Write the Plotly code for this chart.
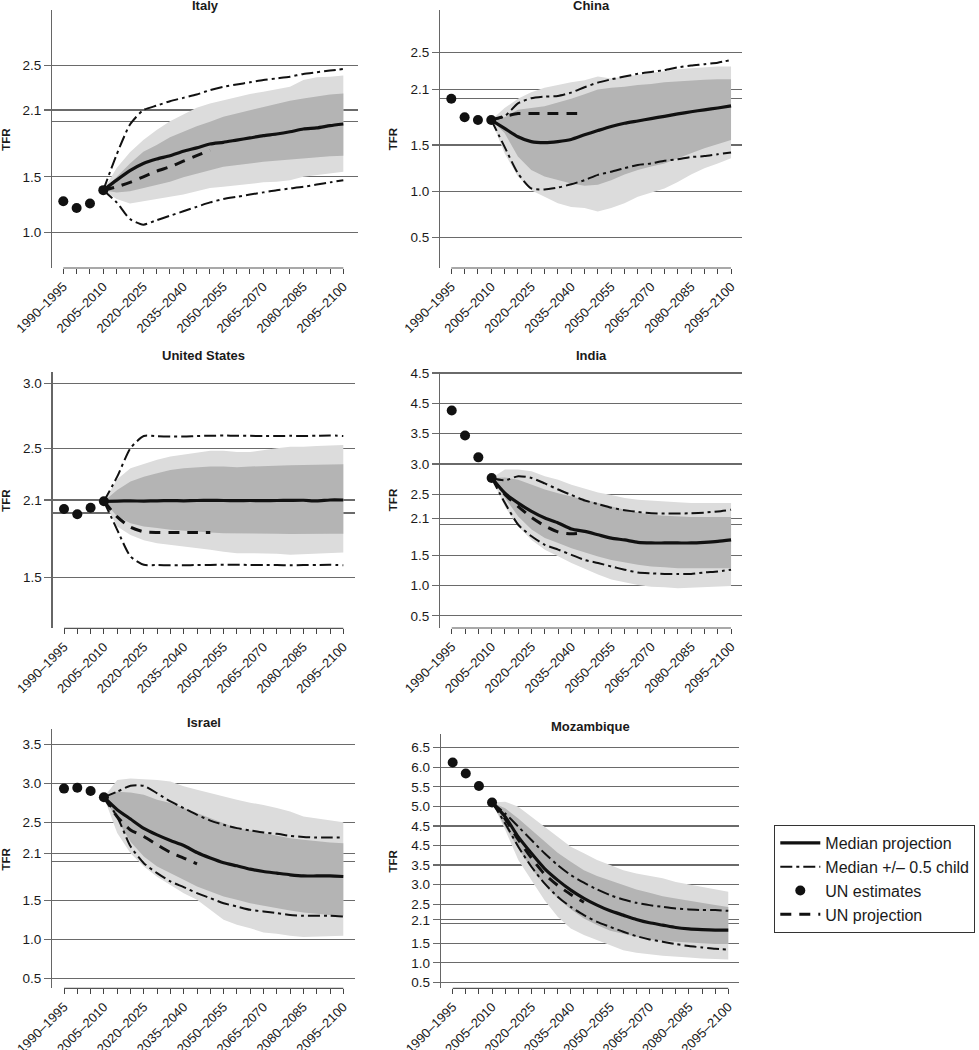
import plotly.graph_objects as go

# ---------------- data ----------------
PERIODS = ["1990–1995", "1995–2000", "2000–2005", "2005–2010", "2010–2015", "2015–2020",
           "2020–2025", "2025–2030", "2030–2035", "2035–2040", "2040–2045", "2045–2050",
           "2050–2055", "2055–2060", "2060–2065", "2065–2070", "2070–2075", "2075–2080",
           "2080–2085", "2085–2090", "2090–2095", "2095–2100"]
EST_START = 0     # UN estimates begin at 1990–1995
PROJ_START = 3    # projections begin at 2005–2010

# Italy
ITALY_EST = [1.28, 1.22, 1.26, 1.38]
ITALY_MED = [1.38, 1.47, 1.555, 1.62, 1.66, 1.69, 1.73, 1.76, 1.795, 1.81, 1.83, 1.85, 1.87, 1.885, 1.905, 1.93, 1.94, 1.96, 1.975]
ITALY_HI = [1.38, 1.70, 1.97, 2.10, 2.14, 2.18, 2.21, 2.24, 2.28, 2.31, 2.33, 2.35, 2.37, 2.385, 2.40, 2.425, 2.44, 2.455, 2.47]
ITALY_LO = [1.38, 1.27, 1.12, 1.07, 1.11, 1.15, 1.19, 1.23, 1.27, 1.30, 1.32, 1.34, 1.36, 1.38, 1.395, 1.41, 1.43, 1.45, 1.47]
ITALY_UN = [1.38, 1.41, 1.45, 1.50, 1.55, 1.59, 1.64, 1.69, 1.74]
ITALY_P95_HI = [1.38, 1.58, 1.72, 1.83, 1.92, 2.00, 2.06, 2.12, 2.16, 2.19, 2.22, 2.245, 2.265, 2.29, 2.31, 2.37, 2.395, 2.40, 2.41]
ITALY_P95_LO = [1.38, 1.30, 1.26, 1.28, 1.30, 1.32, 1.34, 1.37, 1.40, 1.41, 1.42, 1.435, 1.45, 1.455, 1.47, 1.50, 1.515, 1.53, 1.545]
ITALY_P80_HI = [1.38, 1.50, 1.62, 1.725, 1.785, 1.855, 1.905, 1.955, 1.995, 2.04, 2.07, 2.10, 2.13, 2.16, 2.185, 2.205, 2.225, 2.24, 2.25]
ITALY_P80_LO = [1.38, 1.36, 1.37, 1.40, 1.425, 1.455, 1.495, 1.53, 1.56, 1.59, 1.605, 1.62, 1.635, 1.65, 1.655, 1.665, 1.675, 1.685, 1.69]

# China
CHINA_EST = [2.00, 1.80, 1.77, 1.77]
CHINA_MED = [1.77, 1.68, 1.59, 1.537, 1.526, 1.537, 1.56, 1.61, 1.656, 1.70, 1.735, 1.76, 1.786, 1.81, 1.836, 1.86, 1.88, 1.90, 1.923]
CHINA_HI = [1.77, 1.81, 1.95, 2.006, 2.024, 2.03, 2.067, 2.125, 2.175, 2.21, 2.24, 2.27, 2.29, 2.31, 2.34, 2.36, 2.374, 2.39, 2.42]
CHINA_LO = [1.77, 1.48, 1.195, 1.03, 1.02, 1.04, 1.075, 1.12, 1.177, 1.21, 1.25, 1.285, 1.30, 1.33, 1.346, 1.37, 1.38, 1.40, 1.418]
CHINA_UN = [1.77, 1.81, 1.84, 1.84, 1.84, 1.84, 1.84, 1.84]
CHINA_P95_HI = [1.77, 1.90, 2.00, 2.07, 2.12, 2.15, 2.18, 2.20, 2.24, 2.22, 2.24, 2.26, 2.28, 2.30, 2.32, 2.33, 2.34, 2.35, 2.35]
CHINA_P95_LO = [1.77, 1.41, 1.16, 1.01, 0.94, 0.87, 0.83, 0.82, 0.78, 0.82, 0.87, 0.94, 0.985, 1.03, 1.10, 1.18, 1.25, 1.30, 1.357]
CHINA_P80_HI = [1.77, 1.80, 1.88, 1.90, 1.92, 1.96, 2.00, 2.05, 2.10, 2.12, 2.13, 2.15, 2.16, 2.18, 2.19, 2.20, 2.205, 2.21, 2.21]
CHINA_P80_LO = [1.77, 1.63, 1.375, 1.23, 1.16, 1.12, 1.085, 1.06, 1.07, 1.12, 1.18, 1.23, 1.267, 1.30, 1.357, 1.41, 1.465, 1.51, 1.555]

# United States
US_EST = [2.03, 1.99, 2.04, 2.09]
US_MED = [2.09, 2.092, 2.093, 2.092, 2.094, 2.095, 2.094, 2.096, 2.097, 2.096, 2.095, 2.096, 2.095, 2.096, 2.097, 2.098, 2.093, 2.10, 2.10]
US_HI = [2.09, 2.28, 2.50, 2.594, 2.592, 2.59, 2.59, 2.594, 2.596, 2.597, 2.596, 2.595, 2.594, 2.593, 2.595, 2.594, 2.596, 2.598, 2.594]
US_LO = [2.09, 1.87, 1.664, 1.60, 1.598, 1.597, 1.597, 1.598, 1.599, 1.60, 1.60, 1.599, 1.598, 1.598, 1.597, 1.598, 1.599, 1.60, 1.597]
US_UN = [2.09, 1.97, 1.89, 1.855, 1.85, 1.85, 1.85, 1.85, 1.85]
US_P95_HI = [2.09, 2.26, 2.345, 2.38, 2.41, 2.435, 2.45, 2.466, 2.48, 2.48, 2.47, 2.47, 2.486, 2.50, 2.51, 2.51, 2.517, 2.52, 2.525]
US_P95_LO = [2.09, 1.895, 1.83, 1.79, 1.767, 1.754, 1.74, 1.73, 1.716, 1.70, 1.69, 1.69, 1.69, 1.685, 1.677, 1.677, 1.685, 1.69, 1.695]
US_P80_HI = [2.09, 2.178, 2.242, 2.28, 2.306, 2.332, 2.345, 2.353, 2.358, 2.358, 2.353, 2.358, 2.363, 2.365, 2.368, 2.37, 2.37, 2.373, 2.376]
US_P80_LO = [2.09, 1.973, 1.921, 1.895, 1.883, 1.87, 1.862, 1.857, 1.85, 1.844, 1.844, 1.844, 1.839, 1.839, 1.837, 1.835, 1.837, 1.839, 1.839]

# India
INDIA_EST = [3.88, 3.47, 3.11, 2.77]
INDIA_MED = [2.77, 2.52, 2.357, 2.22, 2.11, 2.03, 1.93, 1.89, 1.835, 1.78, 1.75, 1.71, 1.70, 1.70, 1.70, 1.70, 1.71, 1.725, 1.75]
INDIA_HI = [2.77, 2.73, 2.80, 2.77, 2.68, 2.58, 2.49, 2.40, 2.34, 2.28, 2.24, 2.21, 2.19, 2.185, 2.185, 2.19, 2.20, 2.22, 2.247]
INDIA_LO = [2.77, 2.357, 2.0, 1.81, 1.67, 1.59, 1.505, 1.42, 1.37, 1.313, 1.26, 1.214, 1.20, 1.19, 1.19, 1.19, 1.214, 1.23, 1.26]
INDIA_UN = [2.77, 2.50, 2.30, 2.12, 1.98, 1.88, 1.85, 1.87]
INDIA_P95_HI = [2.77, 2.91, 2.91, 2.88, 2.80, 2.74, 2.66, 2.59, 2.53, 2.49, 2.44, 2.41, 2.40, 2.385, 2.37, 2.357, 2.357, 2.357, 2.357]
INDIA_P95_LO = [2.77, 2.30, 1.97, 1.75, 1.59, 1.48, 1.37, 1.27, 1.18, 1.10, 1.05, 1.01, 0.98, 0.97, 0.956, 0.956, 0.97, 0.98, 0.99]
INDIA_P80_HI = [2.77, 2.78, 2.74, 2.66, 2.58, 2.52, 2.47, 2.41, 2.357, 2.30, 2.247, 2.20, 2.165, 2.15, 2.137, 2.126, 2.126, 2.126, 2.126]
INDIA_P80_LO = [2.77, 2.44, 2.137, 1.92, 1.78, 1.70, 1.615, 1.544, 1.478, 1.42, 1.38, 1.34, 1.313, 1.30, 1.285, 1.285, 1.285, 1.285, 1.285]

# Israel
ISRAEL_EST = [2.93, 2.94, 2.90, 2.82]
ISRAEL_MED = [2.82, 2.66, 2.54, 2.42, 2.337, 2.265, 2.20, 2.11, 2.04, 1.98, 1.94, 1.897, 1.867, 1.846, 1.825, 1.81, 1.81, 1.81, 1.803]
ISRAEL_HI = [2.82, 2.89, 2.966, 2.966, 2.87, 2.765, 2.68, 2.594, 2.52, 2.466, 2.423, 2.393, 2.367, 2.35, 2.325, 2.31, 2.303, 2.303, 2.303]
ISRAEL_LO = [2.82, 2.57, 2.19, 1.974, 1.846, 1.74, 1.667, 1.59, 1.526, 1.46, 1.419, 1.376, 1.355, 1.333, 1.31, 1.30, 1.30, 1.30, 1.29]
ISRAEL_UN = [2.82, 2.57, 2.40, 2.316, 2.21, 2.11, 2.04, 1.966]
ISRAEL_P95_HI = [2.82, 3.04, 3.06, 3.05, 3.04, 3.02, 2.96, 2.915, 2.87, 2.83, 2.786, 2.75, 2.72, 2.68, 2.636, 2.573, 2.55, 2.53, 2.50]
ISRAEL_P95_LO = [2.82, 2.36, 2.10, 1.93, 1.80, 1.697, 1.59, 1.504, 1.376, 1.25, 1.184, 1.14, 1.085, 1.07, 1.043, 1.026, 1.026, 1.035, 1.043]
ISRAEL_P80_HI = [2.82, 2.89, 2.88, 2.85, 2.786, 2.744, 2.68, 2.615, 2.55, 2.487, 2.423, 2.393, 2.36, 2.325, 2.295, 2.273, 2.252, 2.24, 2.23]
ISRAEL_P80_LO = [2.82, 2.53, 2.25, 2.06, 1.93, 1.846, 1.76, 1.675, 1.61, 1.547, 1.504, 1.46, 1.427, 1.397, 1.367, 1.342, 1.325, 1.31, 1.30]

# Mozambique
MOZ_EST = [6.12, 5.84, 5.52, 5.10]
MOZ_MED = [5.10, 4.735, 4.22, 3.80, 3.41, 3.115, 2.86, 2.65, 2.476, 2.33, 2.22, 2.11, 2.024, 1.965, 1.905, 1.87, 1.85, 1.837, 1.837]
MOZ_HI = [5.10, 4.82, 4.48, 4.14, 3.80, 3.50, 3.245, 3.05, 2.877, 2.73, 2.62, 2.536, 2.476, 2.43, 2.39, 2.365, 2.35, 2.35, 2.33]
MOZ_LO = [5.10, 4.565, 3.97, 3.456, 3.03, 2.69, 2.43, 2.22, 2.05, 1.92, 1.794, 1.683, 1.60, 1.54, 1.48, 1.43, 1.394, 1.36, 1.34]
MOZ_UN = [5.10, 4.68, 4.15, 3.68, 3.27, 2.98, 2.75, 2.55]
MOZ_P95_HI = [5.10, 5.12, 4.99, 4.735, 4.48, 4.22, 3.97, 3.80, 3.63, 3.50, 3.37, 3.286, 3.22, 3.16, 3.07, 3.01, 2.945, 2.877, 2.817]
MOZ_P95_LO = [5.10, 4.40, 3.63, 3.116, 2.60, 2.18, 1.88, 1.71, 1.58, 1.453, 1.325, 1.257, 1.223, 1.18, 1.155, 1.138, 1.112, 1.095, 1.087]
MOZ_P80_HI = [5.10, 4.95, 4.69, 4.39, 4.10, 3.815, 3.585, 3.37, 3.22, 3.10, 2.99, 2.877, 2.79, 2.706, 2.646, 2.587, 2.536, 2.476, 2.43]
MOZ_P80_LO = [5.10, 4.48, 3.925, 3.41, 2.99, 2.65, 2.37, 2.135, 1.965, 1.82, 1.735, 1.666, 1.60, 1.564, 1.54, 1.513, 1.496, 1.48, 1.48]

# y-axis tick values / labels (labels as printed in the figure)
ITALY_YT = [1.0, 1.5, 2.1, 2.5]
ITALY_YL = ["1.0", "1.5", "2.1", "2.5"]
CHINA_YT = [0.5, 1.0, 1.5, 2.1, 2.5]
CHINA_YL = ["0.5", "1.0", "1.5", "2.1", "2.5"]
US_YT = [1.5, 2.1, 2.5, 3.0]
US_YL = ["1.5", "2.1", "2.5", "3.0"]
INDIA_YT = [0.5, 1.0, 1.5, 2.1, 2.5, 3.0, 3.5, 4.0, 4.5]
INDIA_YL = ["0.5", "1.0", "1.5", "2.1", "2.5", "3.0", "3.5", "4.5", "4.5"]
ISRAEL_YT = [0.5, 1.0, 1.5, 2.1, 2.5, 3.0, 3.5]
ISRAEL_YL = ["0.5", "1.0", "1.5", "2.1", "2.5", "3.0", "3.5"]
MOZ_YT = [0.5, 1.0, 1.5, 2.1, 2.5, 3.0, 3.5, 4.0, 4.5, 5.0, 5.5, 6.0, 6.5]
MOZ_YL = ["0.5", "1.0", "1.5", "2.1", "2.5", "3.0", "3.5", "4.5", "4.5", "5.0", "5.5", "6.0", "6.5"]
EXTRA_GRID = [2.0]

# ---------------- layout (pixels) ----------------
W, H = 979, 1050
FONT = "Liberation Sans, Arial, Helvetica, sans-serif"
LIGHT = "#dcdcdc"
DARK = "#b4b4b4"
INK = "#111111"
GRID = "#6a6a6a"

panels = [
    dict(title="Italy", est=ITALY_EST, med=ITALY_MED, hi=ITALY_HI, lo=ITALY_LO, un=ITALY_UN,
         p95=(ITALY_P95_HI, ITALY_P95_LO), p80=(ITALY_P80_HI, ITALY_P80_LO),
         yt=ITALY_YT, yl=ITALY_YL, xpx=(52.3, 358), ypx=(10, 268), yr=(0.68, 3.0),
         xr=(-0.825, 22.1), tpx=6, lab_x=5.8),
    dict(title="China", est=CHINA_EST, med=CHINA_MED, hi=CHINA_HI, lo=CHINA_LO, un=CHINA_UN,
         p95=(CHINA_P95_HI, CHINA_P95_LO), p80=(CHINA_P80_HI, CHINA_P80_LO),
         yt=CHINA_YT, yl=CHINA_YL, xpx=(440.3, 741.7), ypx=(10, 268), yr=(0.17, 2.96),
         xr=(-0.826, 21.8), tpx=6, lab_x=393.3),
    dict(title="United States", est=US_EST, med=US_MED, hi=US_HI, lo=US_LO, un=US_UN,
         p95=(US_P95_HI, US_P95_LO), p80=(US_P80_HI, US_P80_LO),
         yt=US_YT, yl=US_YL, xpx=(52.7, 355), ypx=(371.7, 628.3), yr=(1.11, 3.09),
         xr=(-0.85, 21.88), tpx=355, lab_x=5.8),
    dict(title="India", est=INDIA_EST, med=INDIA_MED, hi=INDIA_HI, lo=INDIA_LO, un=INDIA_UN,
         p95=(INDIA_P95_HI, INDIA_P95_LO), p80=(INDIA_P80_HI, INDIA_P80_LO),
         yt=INDIA_YT, yl=INDIA_YL, xpx=(440.3, 741.7), ypx=(371.7, 628), yr=(0.30, 4.52),
         xr=(-0.86, 21.8), tpx=355, lab_x=393.3),
    dict(title="Israel", est=ISRAEL_EST, med=ISRAEL_MED, hi=ISRAEL_HI, lo=ISRAEL_LO, un=ISRAEL_UN,
         p95=(ISRAEL_P95_HI, ISRAEL_P95_LO), p80=(ISRAEL_P80_HI, ISRAEL_P80_LO),
         yt=ISRAEL_YT, yl=ISRAEL_YL, xpx=(52.3, 355), ypx=(729.3, 988.3), yr=(0.37, 3.69),
         xr=(-0.88, 21.88), tpx=722.3, lab_x=5.8),
    dict(title="Mozambique", est=MOZ_EST, med=MOZ_MED, hi=MOZ_HI, lo=MOZ_LO, un=MOZ_UN,
         p95=(MOZ_P95_HI, MOZ_P95_LO), p80=(MOZ_P80_HI, MOZ_P80_LO),
         yt=MOZ_YT, yl=MOZ_YL, xpx=(441, 739.3), ypx=(734, 988.3), yr=(0.35, 6.85),
         xr=(-0.89, 21.84), tpx=726.7, lab_x=393.3),
]

DASHDOT = "12px,4px,3px,4px"
UNDASH = "11px,8px"

xticks = list(range(len(PERIODS)))
xtext = [lab if i % 3 == 0 else "" for i, lab in enumerate(PERIODS)]

fig = go.Figure()
layout = dict(width=W, height=H, margin=dict(l=0, r=0, t=0, b=0, autoexpand=False),
              template="none",
              paper_bgcolor="white", plot_bgcolor="white",
              font=dict(family=FONT, color="#1a1a1a"), showlegend=True)
annotations = []
shapes = []

for k, p in enumerate(panels):
    sfx = "" if k == 0 else str(k + 1)
    xa, ya = "x" + sfx, "y" + sfx
    first = k == 0
    proj_x = list(range(PROJ_START, PROJ_START + len(p["med"])))
    est_x = list(range(EST_START, EST_START + len(p["est"])))
    un_x = list(range(PROJ_START, PROJ_START + len(p["un"])))

    for (hi, lo), col in ((p["p95"], LIGHT), (p["p80"], DARK)):
        fig.add_trace(go.Scatter(x=proj_x + proj_x[::-1], y=hi + lo[::-1], fill="toself",
                                 fillcolor=col, mode="lines", line=dict(width=0),
                                 hoverinfo="skip", showlegend=False, xaxis=xa, yaxis=ya))
    for ys, nm in ((p["hi"], "Median +/– 0.5 child"), (p["lo"], None)):
        fig.add_trace(go.Scatter(x=proj_x, y=ys, mode="lines",
                                 line=dict(color=INK, width=2, dash=DASHDOT, shape="spline", smoothing=0.6),
                                 name="Median +/– 0.5 child", legendrank=2,
                                 showlegend=first and nm is not None, xaxis=xa, yaxis=ya))
    fig.add_trace(go.Scatter(x=un_x, y=p["un"], mode="lines",
                             line=dict(color=INK, width=3, dash=UNDASH, shape="spline", smoothing=0.6),
                             name="UN projection", legendrank=4, showlegend=first, xaxis=xa, yaxis=ya))
    fig.add_trace(go.Scatter(x=proj_x, y=p["med"], mode="lines",
                             line=dict(color=INK, width=3.2, shape="spline", smoothing=0.6),
                             name="Median projection", legendrank=1, showlegend=first, xaxis=xa, yaxis=ya))
    fig.add_trace(go.Scatter(x=est_x, y=p["est"], mode="markers",
                             marker=dict(color=INK, size=10),
                             name="UN estimates", legendrank=3, showlegend=first, xaxis=xa, yaxis=ya))

    x0, x1 = p["xpx"]
    yt, yb = p["ypx"]
    layout["xaxis" + sfx] = dict(
        domain=[x0 / W, x1 / W], range=list(p["xr"]), anchor=ya, automargin=False,
        tickmode="array", tickvals=xticks, ticktext=xtext, tickangle=-45,
        ticks="outside", ticklen=5, tickwidth=1, tickcolor="#444444",
        showgrid=False, zeroline=False, showline=False,
        tickfont=dict(family=FONT, size=13, color="#1a1a1a"), fixedrange=True)
    layout["yaxis" + sfx] = dict(
        domain=[1 - yb / H, 1 - yt / H], range=list(p["yr"]), anchor=xa, automargin=False,
        tickmode="array", tickvals=p["yt"], ticktext=p["yl"],
        ticks="outside", ticklen=7, tickwidth=1.2, tickcolor=GRID,
        showgrid=True, gridcolor=GRID, gridwidth=1.2, zeroline=False,
        showline=True, linecolor="#666666", linewidth=1.3,
        minor=dict(tickmode="array", tickvals=EXTRA_GRID, showgrid=True, gridcolor=GRID,
                   gridwidth=1.2, ticks=""),
        tickfont=dict(family=FONT, size=13.5, color="#1a1a1a"), fixedrange=True)
    # x baseline spanning first to last period
    shapes.append(dict(type="line", xref=xa, yref=ya + " domain", x0=0, x1=len(PERIODS) - 1,
                       y0=0, y1=0, line=dict(color="#555555", width=1.2), layer="above"))
    annotations.append(dict(text="<b>" + p["title"] + "</b>", xref="paper", yref="paper",
                            x=(x0 + x1) / 2 / W, y=1 - p["tpx"] / H, showarrow=False,
                            xanchor="center", yanchor="middle",
                            font=dict(family=FONT, size=13, color="#1a1a1a")))
    annotations.append(dict(text="<b>TFR</b>", xref="paper", yref="paper", textangle=-90,
                            x=p["lab_x"] / W, y=1 - (yt + yb) / 2 / H, showarrow=False,
                            xanchor="center", yanchor="middle",
                            font=dict(family=FONT, size=11.5, color="#1a1a1a")))

layout["annotations"] = annotations
layout["shapes"] = shapes
layout["legend"] = dict(x=774.3 / W, y=1 - 825 / H, xanchor="left", yanchor="top",
                        bordercolor="#333333", borderwidth=1, bgcolor="white",
                        font=dict(family=FONT, size=16, color="#1a1a1a"),
                        itemwidth=40, tracegroupgap=0, traceorder="normal")
fig.update_layout(**layout)
fig.write_html("out.html", config={"displayModeBar": False, "staticPlot": True},
               post_script="document.body.style.margin='0';document.body.style.padding='0';")
